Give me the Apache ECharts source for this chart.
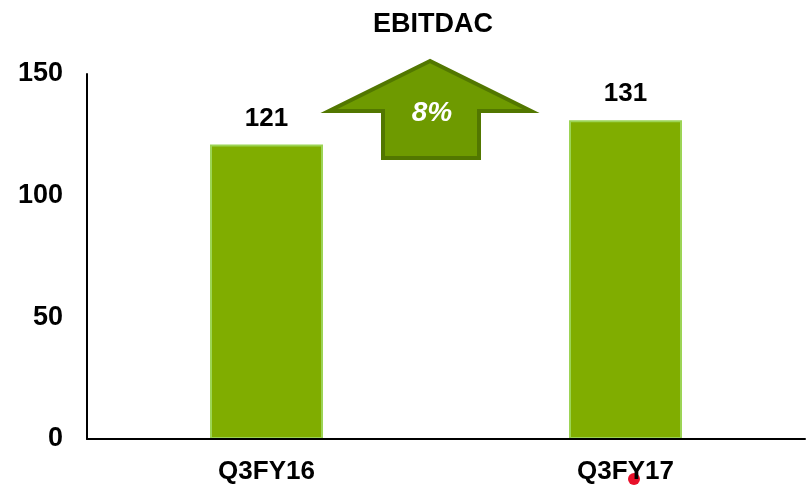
<!DOCTYPE html>
<html><head><meta charset="utf-8">
<script src="https://cdn.jsdelivr.net/npm/echarts@6/dist/echarts.min.js"></script>
<style>html,body{margin:0;padding:0;background:#fff}#c{width:806px;height:485px}</style>
</head><body><div id="c"></div>
<script>
var categories = ['Q3FY16', 'Q3FY17'];
var values = [121, 131];
var yTicks = [0, 50, 100, 150];
var growthLabel = '8%';
var title = 'EBITDAC';

var chart = echarts.init(document.getElementById('c'));
var F = '"Liberation Sans", Arial, sans-serif';
chart.setOption({
  animation: false,
  title: { text: title, left: 428, top: 6, textAlign: 'center',
    textStyle: { fontFamily: F, fontWeight: 'bold', fontSize: 27, color: '#000' } },
  grid: { left: 87, right: 1, top: 74, bottom: 45, containLabel: false },
  xAxis: { type: 'category', data: categories, z: 5,
    axisLine: { lineStyle: { color: '#000', width: 2 } }, axisTick: { show: false },
    axisLabel: { fontFamily: F, fontWeight: 'bold', fontSize: 26, color: '#000', margin: 20 } },
  yAxis: { type: 'value', min: yTicks[0], max: yTicks[yTicks.length-1], interval: 50,
    axisLine: { show: true, lineStyle: { color: '#000', width: 2 } }, axisTick: { show: false },
    splitLine: { show: false },
    axisLabel: { fontFamily: F, fontWeight: 'bold', fontSize: 27, color: '#000', margin: 24 } },
  series: [{ type: 'bar', data: values, barWidth: 113,
    itemStyle: { color: '#80ad00', borderColor: '#9cd455', borderWidth: 2 },
    label: { show: true, position: 'top', distance: 13, fontFamily: F, fontWeight: 'bold', fontSize: 26, color: '#000' } }],
  graphic: [
    { type: 'polygon', shape: { points: [[430,61],[329,111],[383,111],[383,158],[479,158],[479,111],[531,111]] },
      style: { fill: '#6e9a00', stroke: '#527700', lineWidth: 4 } },
    { type: 'text', x: 432, y: 113, style: { text: growthLabel, fill: '#fff', font: 'italic bold 28px ' + F, align: 'center', verticalAlign: 'middle' } },
    { type: 'circle', z: 1, shape: { cx: 634, cy: 479, r: 6 }, style: { fill: '#e8102a' } }
  ]
});
</script></body></html>
